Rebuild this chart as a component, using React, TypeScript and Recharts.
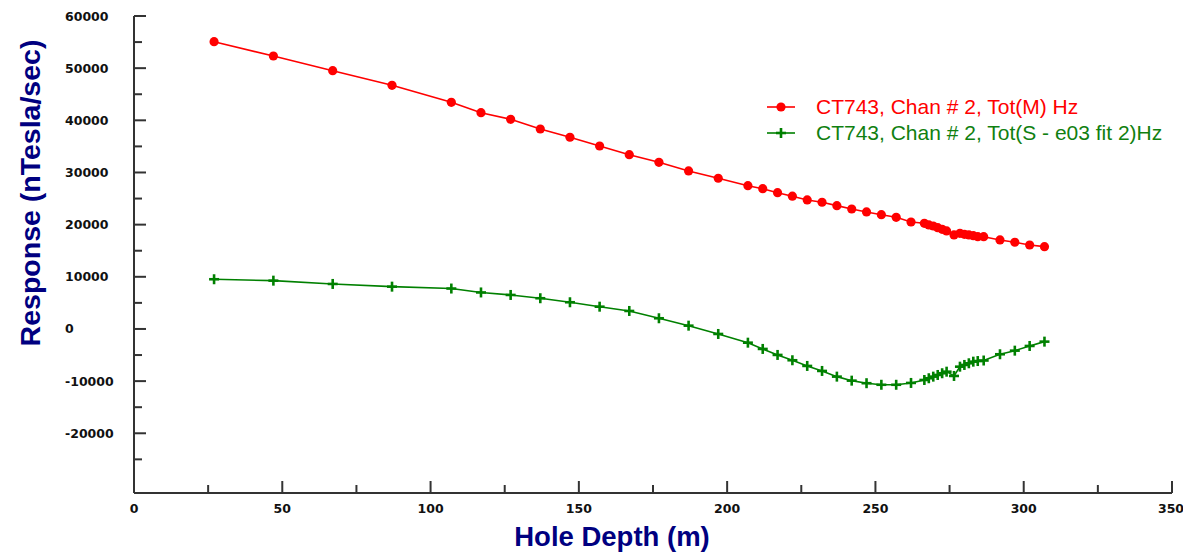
import React from 'react';
import { LineChart, Line, XAxis, YAxis, Label } from 'recharts';

const depths = [27, 47, 67, 87, 107, 117, 127, 137, 147, 157, 167, 177, 187, 197, 207, 212, 217, 222, 227, 232, 237, 242, 247, 252, 257, 262,
  266.5, 268, 269.5, 271, 272.5, 274, 276.5, 278.5, 280, 281.5, 283, 284.5, 286.5, 292, 297, 302, 307];

const totM = [55070, 52330, 49510, 46710, 43450, 41460, 40200, 38340, 36750, 35080, 33410, 31950, 30290, 28890, 27470, 26890, 26130, 25450, 24730, 24290, 23640, 23000, 22430, 21910, 21410, 20510,
  20260, 19940, 19740, 19420, 19110, 18790, 18020, 18340, 18150, 18020, 17880, 17690, 17690, 17060, 16620, 16100, 15780];

const totS = [9530, 9260, 8630, 8110, 7750, 7000, 6520, 5890, 5120, 4270, 3450, 2050, 630, -960, -2630, -3830, -4980, -6000, -7090, -8050, -9140, -9910, -10400, -10700, -10700, -10350,
  -9780, -9450, -9140, -8820, -8490, -8190, -9010, -7230, -6900, -6580, -6270, -6150, -6050, -4850, -4160, -3260, -2430];

const xTicks = [0, 25, 50, 75, 100, 125, 150, 175, 200, 225, 250, 275, 300, 325, 350];
const yTicks = [-25000, -20000, -15000, -10000, -5000, 0, 5000, 10000, 15000, 20000, 25000, 30000, 35000, 40000, 45000, 50000, 55000, 60000];

const seriesNames = ['CT743, Chan # 2, Tot(M) Hz', 'CT743, Chan # 2, Tot(S - e03 fit 2)Hz'];
const RED = '#ff0000';
const GREEN = '#008000';

const data = depths.map((d, i) => ({ depth: d, m: totM[i], s: totS[i] }));

const tickFont = { fontFamily: 'DejaVu Sans, Verdana, sans-serif', fontWeight: 700, fontSize: 12.5, fill: '#111' };

const YTick = (props: any) => {
  const { x, y, payload } = props;
  const v = payload.value;
  const major = v % 10000 === 0;
  return (
    <g>
      <line x1={x} x2={x + (major ? 12 : 8)} y1={y} y2={y} stroke="#333" strokeWidth={2} />
      {major && (
        <text x={x - 69} y={y} dy="0.36em" textAnchor="start" {...tickFont}>{v}</text>
      )}
    </g>
  );
};

const XTick = (props: any) => {
  const { x, y, payload } = props;
  const v = payload.value;
  const major = v % 50 === 0;
  return (
    <g>
      <line x1={x} x2={x} y1={y} y2={y - (major ? 12 : 8)} stroke="#333" strokeWidth={2} />
      {major && (
        <text x={v === 350 ? x - 1 : x} y={y + 15} dy="0.36em" textAnchor="middle" {...tickFont}>{v}</text>
      )}
    </g>
  );
};

const RedDot = (props: any) => {
  const { cx, cy } = props;
  if (cx == null || cy == null) return null;
  return <circle cx={cx} cy={cy} r={4.6} fill={RED} stroke="none" />;
};

const Plus = (props: any) => {
  const { cx, cy } = props;
  if (cx == null || cy == null) return null;
  return (
    <g stroke={GREEN} strokeWidth={2.6}>
      <line x1={cx - 5} x2={cx + 5} y1={cy} y2={cy} />
      <line x1={cx} x2={cx} y1={cy - 5} y2={cy + 5} />
    </g>
  );
};

const LegendBox = () => (
  <div style={{ position: 'absolute', left: 766, top: 94, fontFamily: 'Liberation Sans, Arial, sans-serif', fontSize: 21, lineHeight: '26px' }}>
    {[0, 1].map((i) => (
      <div key={i} style={{ display: 'flex', alignItems: 'center', height: 26 }}>
        <svg width={30} height={26} style={{ marginRight: 20 }}>
          <line x1={1} x2={29} y1={13} y2={13} stroke={i === 0 ? RED : GREEN} strokeWidth={1.6} />
          {i === 0 ? (
            <circle cx={15} cy={13} r={4.6} fill={RED} />
          ) : (
            <g stroke={GREEN} strokeWidth={2.6}>
              <line x1={10} x2={20} y1={13} y2={13} />
              <line x1={15} x2={15} y1={8} y2={18} />
            </g>
          )}
        </svg>
        <span style={{ color: i === 0 ? RED : '#108010', whiteSpace: 'nowrap' }}>{seriesNames[i]}</span>
      </div>
    ))}
  </div>
);

const titleStyle = { fontFamily: 'Liberation Sans, Arial, sans-serif', fontWeight: 700, fontSize: 27.5, fill: '#000080' };

export default function App() {
  return (
    <div style={{ position: 'absolute', left: 0, top: 0, width: 1183, height: 553, background: '#fff', overflow: 'hidden' }}>
      <LineChart width={1183} height={553} data={data} margin={{ top: 16, right: 11, bottom: 0, left: 0 }}>
        <XAxis
          dataKey="depth"
          type="number"
          domain={[0, 350]}
          ticks={xTicks}
          interval={0}
          height={60}
          tickSize={0}
          tickMargin={0}
          tickLine={false}
          tick={<XTick />}
          axisLine={{ stroke: '#333', strokeWidth: 2 }}
        >
          <Label
            content={() => (
              <text x={612} y={546} textAnchor="middle" {...titleStyle}>Hole Depth (m)</text>
            )}
          />
        </XAxis>
        <YAxis
          type="number"
          domain={[-31450, 60000]}
          ticks={yTicks}
          interval={0}
          width={134}
          tickSize={0}
          tickMargin={0}
          tickLine={false}
          tick={<YTick />}
          axisLine={{ stroke: '#333', strokeWidth: 2 }}
          allowDataOverflow
        >
          <Label
            content={() => (
              <text x={30} y={193} transform="rotate(-90 30 193)" textAnchor="middle" dominantBaseline="central" {...titleStyle} fontSize={28.5}>Response (nTesla/sec)</text>
            )}
          />
        </YAxis>
        <Line
          type="linear"
          dataKey="m"
          name={seriesNames[0]}
          stroke={RED}
          strokeWidth={1.6}
          dot={<RedDot />}
          activeDot={false}
          isAnimationActive={false}
        />
        <Line
          type="linear"
          dataKey="s"
          name={seriesNames[1]}
          stroke={GREEN}
          strokeWidth={1.6}
          dot={<Plus />}
          activeDot={false}
          isAnimationActive={false}
        />
      </LineChart>
      <LegendBox />
    </div>
  );
}
